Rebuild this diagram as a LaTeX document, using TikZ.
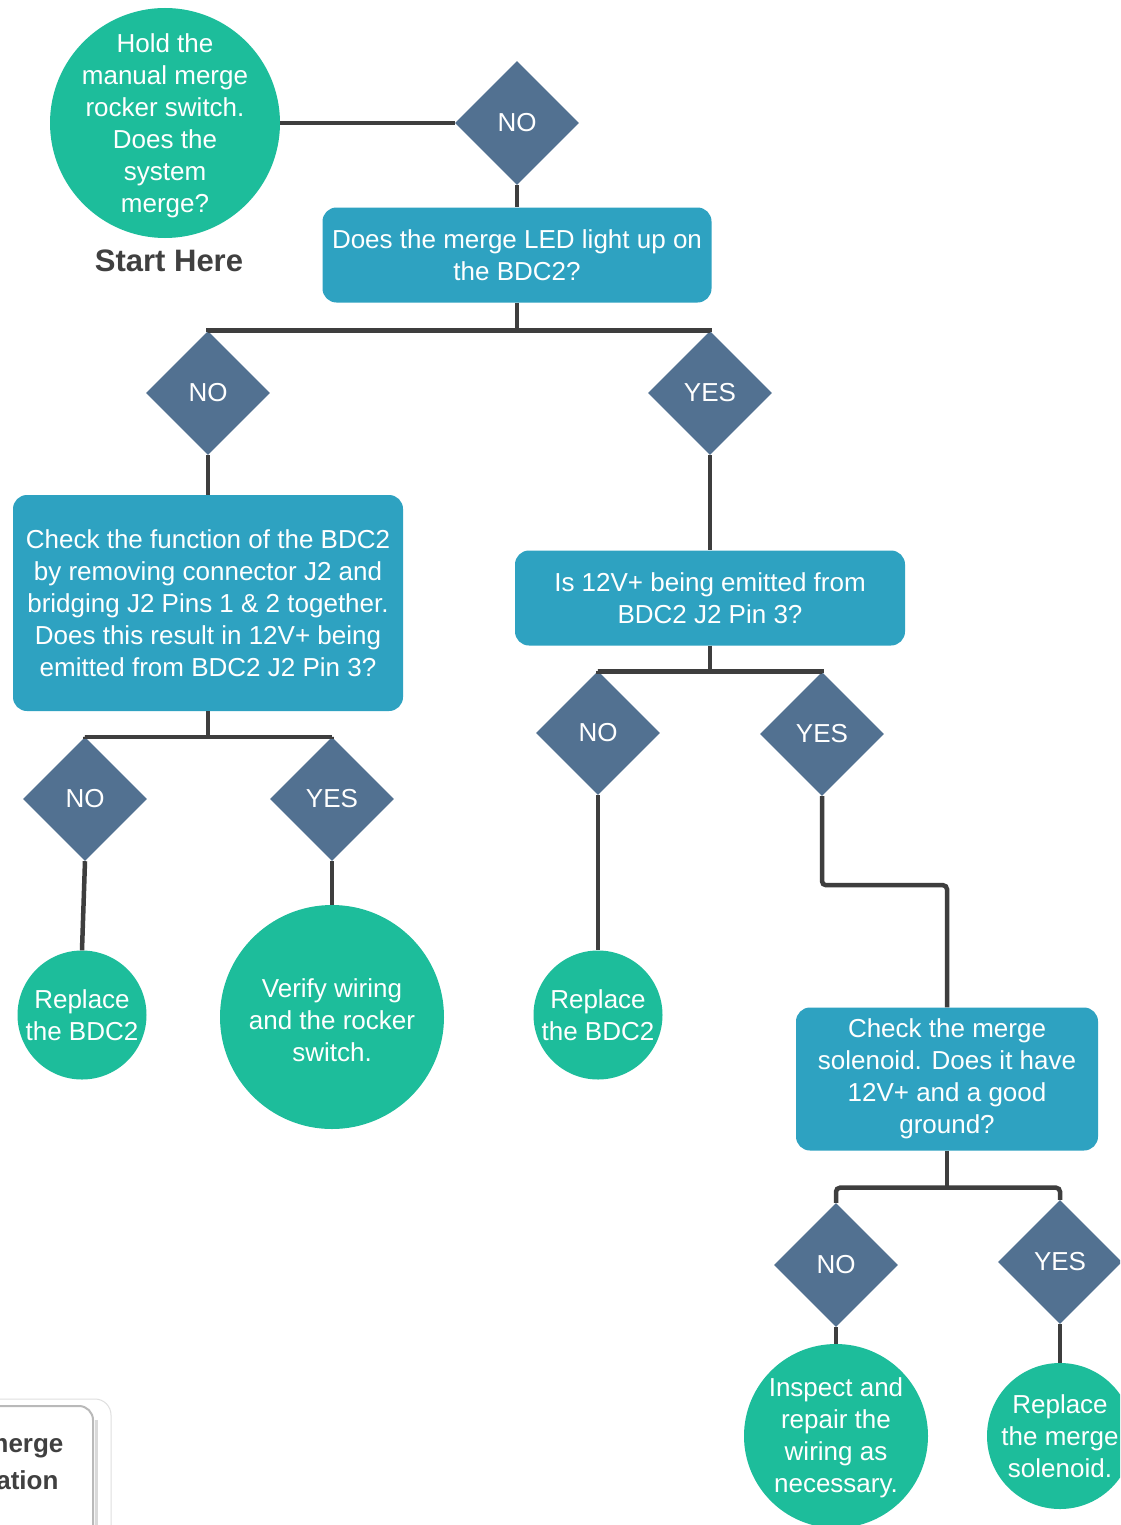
\documentclass[tikz,border=0pt]{standalone}
\usepackage{fontspec}
\setmainfont{Liberation Sans}
\usetikzlibrary{shapes.geometric}
\definecolor{endgreen}{RGB}{29,189,155}
\definecolor{askblue}{RGB}{46,162,193}
\definecolor{slate}{RGB}{82,113,145}
\definecolor{wiregray}{RGB}{62,62,62}
\definecolor{darktext}{RGB}{64,64,64}
\newcommand{\bodyfont}{\fontsize{26}{32}\selectfont}
\begin{document}
\begin{tikzpicture}[x=1pt,y=-1pt,
	wire/.style={draw=wiregray,line width=4.5pt},
	answer/.style={diamond,fill=slate,inner sep=0pt,minimum size=124pt,text=white,font=\bodyfont},
	ask/.style={rectangle,rounded corners=14pt,fill=askblue,inner sep=0pt,text=white,align=center,font=\bodyfont},
	endnode/.style={circle,fill=endgreen,inner sep=0pt},
	msg/.style={text=white,align=center,font=\bodyfont}]
		\useasboundingbox (0,0) rectangle (1120,1525);
		\fill[white] (0,0) rectangle (1120,1525);
		\clip (0,0) rectangle (1120,1525);
		%Recuadro de abajo a la izquierda
		\draw[gray!25,line width=1pt,rounded corners=16pt] (-200,1399) rectangle (111,1640);
		\draw[gray!55,line width=2pt,fill=white,rounded corners=14pt] (-200,1406) rectangle (93,1640);
		\draw[gray!30,line width=3pt] (96,1420) -- (96,1525);
		\node[anchor=east,font=\bfseries\bodyfont,text=darktext] (opmerge) at (67,1448) {merge};
		\node[anchor=east,font=\bfseries\bodyfont,text=darktext] (opation) at (62,1480) {ation};
		%Inicio
		\node[endnode,minimum size=230pt,label={[msg,yshift=-3pt]center:{Hold the\\manual merge\\rocker switch.\\Does the\\system\\merge?}}] (start) at (165,123) {};
		\node[font=\bfseries\fontsize{31}{36}\selectfont,text=darktext] (starthere) at (169,261) {Start Here};
		\node[answer] (a0) at (517,123) {NO};
		\node[ask,minimum width=389pt,minimum height=95pt] (q1) at (517,255) {Does the merge LED light up on\\the BDC2?};
		%Primer nivel
		\node[answer] (a1no) at (208,393) {NO};
		\node[answer] (a1yes) at (710,393) {YES};
		\node[ask,minimum width=390pt,minimum height=216pt] (q2) at (208,603) {Check the function of the BDC2\\by removing connector J2 and\\bridging J2 Pins 1 \& 2 together.\\Does this result in 12V+ being\\emitted from BDC2 J2 Pin 3?};
		\node[ask,minimum width=390pt,minimum height=95pt] (q3) at (710,598) {Is 12V+ being emitted from\\BDC2 J2 Pin 3?};
		%Segundo nivel izquierda
		\node[answer] (a2no) at (85,799) {NO};
		\node[answer] (a2yes) at (332,799) {YES};
		\node[endnode,minimum size=129pt,label={[msg]center:{Replace\\the BDC2}}] (r1) at (82,1015) {};
		\node[endnode,minimum size=224pt,label={[msg,yshift=-3pt]center:{Verify wiring\\and the rocker\\switch.}}] (r2) at (332,1017) {};
		%Segundo nivel derecha
		\node[answer] (a3no) at (598,733) {NO};
		\node[answer] (a3yes) at (822,734) {YES};
		\node[endnode,minimum size=129pt,label={[msg]center:{Replace\\the BDC2}}] (r3) at (598,1015) {};
		\node[ask,minimum width=302pt,minimum height=143pt] (q4) at (947,1079) {Check the merge\\solenoid. Does it have\\12V+ and a good\\ground?};
		%Tercer nivel
		\node[answer] (a4no) at (836,1265) {NO};
		\node[answer] (a4yes) at (1060,1262) {YES};
		\node[endnode,minimum size=184pt,label={[msg,yshift=-2pt]center:{Inspect and\\repair the\\wiring as\\necessary.}}] (r4) at (836,1436) {};
		\node[endnode,minimum size=146pt,label={[msg]center:{Replace\\the merge\\solenoid.}}] (r5) at (1060,1436) {};
		%Lineas
		\draw[wire] (start.east) -- (a0.west);
		\draw[wire] (a0.south) -- (q1.north);
		\draw[wire] (q1.south) -- ++(0,28) coordinate (j1);
		\draw[wire] (a1no.north) -- (a1no.north |- j1) -- (a1yes.north |- j1) -- (a1yes.north);
		\draw[wire] (a1no.south) -- (q2.north);
		\draw[wire] (a1yes.south) -- (q3.north);
		\draw[wire] (q2.south) -- ++(0,26) coordinate (j2);
		\draw[wire] (a2no.north) -- (a2no.north |- j2) -- (a2yes.north |- j2) -- (a2yes.north);
		\draw[wire] (a2no.south) -- (r1.north);
		\draw[wire] (a2yes.south) -- (r2.north);
		\draw[wire] (q3.south) -- ++(0,26) coordinate (j3);
		\draw[wire] (a3no.north) -- (a3no.north |- j3) -- (a3yes.north |- j3) -- (a3yes.north);
		\draw[wire] (a3no.south) -- (r3.north);
		\draw[wire,rounded corners=4pt] (a3yes.south) -- ++(0,89) -| (q4.north);
		\draw[wire] (q4.south) -- ++(0,37) coordinate (j4);
		\draw[wire,rounded corners=4pt] (a4no.north) |- (j4) -| (a4yes.north);
		\draw[wire] (a4no.south) -- (r4.north);
		\draw[wire] (a4yes.south) -- (r5.north);
	\end{tikzpicture}
\end{document}
